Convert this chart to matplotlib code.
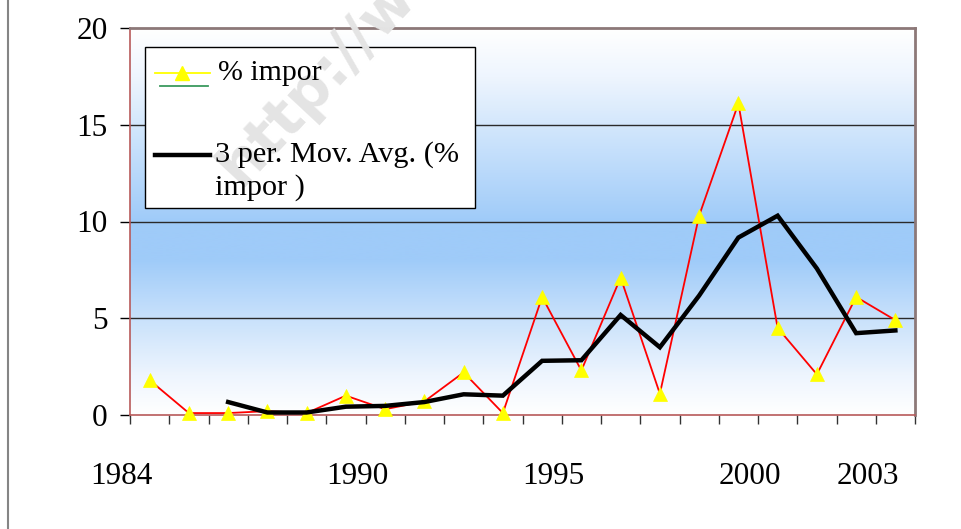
import matplotlib
matplotlib.use("Agg")
import matplotlib.pyplot as plt
import numpy as np
from matplotlib.colors import LinearSegmentedColormap
from matplotlib.lines import Line2D
from matplotlib.patches import Rectangle
from matplotlib.transforms import ScaledTranslation

# ---- data -------------------------------------------------------------
years = list(range(1984, 2004))
pct_import = [1.8, 0.1, 0.1, 0.2, 0.1, 1.0, 0.3, 0.7, 2.2, 0.1,
              6.1, 2.3, 7.1, 1.1, 10.3, 16.1, 4.5, 2.1, 6.1, 4.9]
moving_avg = [np.nan, np.nan, 0.67, 0.13, 0.13, 0.43, 0.47, 0.67, 1.07, 1.0,
              2.8, 2.83, 5.17, 3.5, 6.17, 9.17, 10.3, 7.57, 4.23, 4.37]
labelled_years = [1984, 1990, 1995, 2000, 2003]
y_ticks = [0, 5, 10, 15, 20]

FONT = "Liberation Serif"
plt.rcParams["font.family"] = [FONT, "DejaVu Serif"]

W, H = 962, 529
fig = plt.figure(figsize=(W / 100, H / 100), dpi=100)
fig.patch.set_facecolor("white")

# plot area in pixel terms
px0, px1, py0, py1 = 130, 915, 28, 415
ax = fig.add_axes([px0 / W, 1 - py1 / H, (px1 - px0) / W, (py1 - py0) / H])

n = len(years)
x = np.arange(n)

# vertical white -> blue -> white background
blue = "#9fcbf9"
cmap = LinearSegmentedColormap.from_list(
    "bg",
    [(0.0, "#ffffff"), (0.10, "#eef5fe"), (0.25, "#c8e1fb"),
     (0.40, blue), (0.50, blue), (0.75, "#d3e7fc"), (0.875, "#eef5fe"), (1.0, "#ffffff")])
grad = np.linspace(0, 1, 400).reshape(-1, 1)
ax.imshow(grad, cmap=cmap, aspect="auto", origin="lower",
          extent=[-0.5, n - 0.5, 0, 20], zorder=0, interpolation="bicubic")

# horizontal gridlines
for yv in y_ticks[1:-1]:
    ax.axhline(yv, color="#2a2a2a", lw=1.0, zorder=1)

# series
ax.plot(x, pct_import, color="red", lw=1.3, marker="^", markersize=10,
        markerfacecolor="yellow", markeredgecolor="yellow", markeredgewidth=0.5,
        zorder=3, clip_on=False)
ax.plot(x, moving_avg, color="black", lw=3.2, zorder=4, solid_joinstyle="miter")

# spines
for side in ("top", "right"):
    ax.spines[side].set_color("#8c7878")
    ax.spines[side].set_linewidth(2.0)
for side in ("left", "bottom"):
    ax.spines[side].set_color("#b85a5a")
    ax.spines[side].set_linewidth(1.2)

# y axis
ax.set_yticks(y_ticks)
ax.set_yticklabels([str(v) for v in y_ticks], fontsize=22.5, family=FONT)
ax.tick_params(axis="y", direction="out", length=7.2, width=1.0, color="black", pad=9)

# x axis: boundary ticks and year labels (labels sit left of their category)
ax.set_xticks(np.arange(-0.5, n + 0.5, 1.0))
ax.set_xticklabels([])
ax.tick_params(axis="x", which="major", direction="out", length=6.5, width=1.0, color="#333333")
ax.set_xticks([years.index(yr) for yr in labelled_years],
              labels=[str(yr) for yr in labelled_years], minor=True)
ax.tick_params(axis="x", which="minor", length=0, pad=34, labelsize=22.5)
shift = ScaledTranslation(-0.28, 0, fig.dpi_scale_trans)
for lab in ax.get_xticklabels(minor=True):
    lab.set_transform(lab.get_transform() + shift)

ax.set_xlim(-0.5, n - 0.5)
ax.set_ylim(0, 20)

# legend box
def ax_xy(px, py):
    return (px - px0) / (px1 - px0), (py1 - py) / (py1 - py0)

lx0, ly0 = ax_xy(145, 208)
lx1, ly1 = ax_xy(475, 47)
ax.add_patch(Rectangle((lx0, ly0), lx1 - lx0, ly1 - ly0, transform=ax.transAxes,
                       facecolor="white", edgecolor="black", lw=1.0, zorder=6))

def seg(px_a, px_b, py, **kw):
    xa, ya = ax_xy(px_a, py)
    xb, _ = ax_xy(px_b, py)
    ax.add_line(Line2D([xa, xb], [ya, ya], transform=ax.transAxes, zorder=8, **kw))

seg(155, 210, 73, color="yellow", lw=1.3)
seg(160, 208, 86, color="#3a9a5e", lw=1.3)
mx, my = ax_xy(182, 73)
ax.add_line(Line2D([mx], [my], transform=ax.transAxes, marker="^", markersize=10,
                   markerfacecolor="yellow", markeredgecolor="yellow", zorder=9))
seg(155, 210, 155, color="black", lw=3.2)

tx, ty = ax_xy(218, 80)
ax.text(tx, ty, "% impor", transform=ax.transAxes, fontsize=21.5, va="baseline",
        ha="left", zorder=9, family=FONT)
tx, ty = ax_xy(215, 162)
ax.text(tx, ty, "3 per. Mov. Avg. (%", transform=ax.transAxes, fontsize=21.8,
        va="baseline", ha="left", zorder=9, family=FONT)
tx, ty = ax_xy(215, 195)
ax.text(tx, ty, "impor )", transform=ax.transAxes, fontsize=21.8,
        va="baseline", ha="left", zorder=9, family=FONT)

# faint site watermark, under the legend text
ax.text(240 / W, 1 - 188 / H, "http://w", transform=fig.transFigure, fontsize=42,
        fontweight="bold", family="DejaVu Sans", color="#e4e4e4", rotation=47,
        rotation_mode="anchor", ha="left", va="baseline", zorder=7, clip_on=False)

# outer chart frame (left edge)
fig.add_artist(Line2D([8 / W, 8 / W], [0, 1], transform=fig.transFigure,
                      color="#858585", lw=1.5))

fig.savefig("out.png", dpi=100)
